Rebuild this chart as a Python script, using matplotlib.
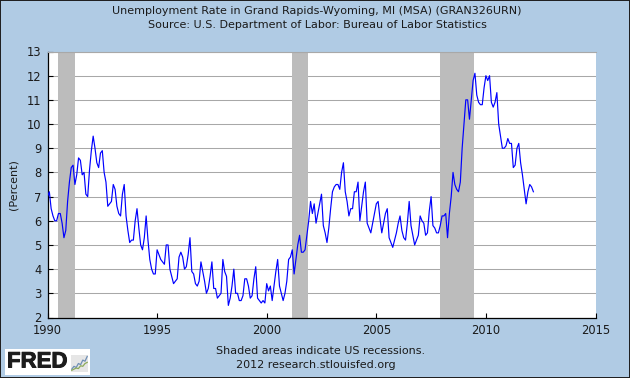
import numpy as np
import matplotlib
matplotlib.use("Agg")
import matplotlib.pyplot as plt
import matplotlib.patheffects as pe
from matplotlib.patches import Rectangle

# monthly unemployment rate
rate_1990 = [7.0, 7.2, 6.5, 6.2, 6.0, 6.0, 6.3, 6.3, 5.9, 5.3, 5.6, 6.8]
rate_1991 = [7.6, 8.2, 8.3, 7.5, 7.9, 8.6, 8.5, 7.9, 8.0, 7.1, 7.0, 8.1]
rate_1992 = [8.9, 9.5, 9.0, 8.4, 8.2, 8.8, 8.9, 8.0, 7.6, 6.6, 6.7, 6.8]
rate_1993 = [7.5, 7.3, 6.6, 6.3, 6.2, 7.1, 7.5, 6.2, 5.6, 5.1, 5.2, 5.2]
rate_1994 = [6.0, 6.5, 5.7, 5.0, 4.8, 5.3, 6.2, 5.2, 4.4, 4.0, 3.8, 3.8]
rate_1995 = [4.8, 4.6, 4.4, 4.3, 4.2, 5.0, 5.0, 4.0, 3.7, 3.4, 3.5, 3.6]
rate_1996 = [4.5, 4.7, 4.5, 4.0, 4.1, 4.6, 5.3, 3.9, 3.8, 3.4, 3.3, 3.5]
rate_1997 = [4.3, 3.9, 3.5, 3.0, 3.2, 3.7, 4.3, 3.2, 3.2, 2.8, 2.9, 3.0]
rate_1998 = [4.4, 3.9, 3.7, 2.5, 2.8, 3.3, 4.0, 3.0, 3.0, 2.7, 2.7, 2.9]
rate_1999 = [3.6, 3.6, 3.3, 2.8, 2.9, 3.6, 4.1, 2.8, 2.7, 2.6, 2.7, 2.6]
rate_2000 = [3.4, 3.1, 3.3, 2.7, 3.3, 3.9, 4.4, 3.3, 3.0, 2.7, 3.0, 3.5]
rate_2001 = [4.4, 4.5, 4.8, 3.8, 4.4, 5.0, 5.4, 4.7, 4.7, 4.8, 5.4, 6.0]
rate_2002 = [6.8, 6.3, 6.7, 5.9, 6.3, 6.7, 7.1, 5.8, 5.5, 5.1, 5.7, 6.5]
rate_2003 = [7.2, 7.4, 7.5, 7.5, 7.3, 8.0, 8.4, 7.2, 6.8, 6.2, 6.5, 6.5]
rate_2004 = [7.2, 7.2, 7.6, 6.0, 6.6, 7.2, 7.6, 5.9, 5.7, 5.5, 5.9, 6.3]
rate_2005 = [6.7, 6.8, 6.1, 5.5, 5.9, 6.3, 6.5, 5.3, 5.1, 4.9, 5.2, 5.5]
rate_2006 = [5.9, 6.2, 5.6, 5.3, 5.2, 5.9, 6.8, 5.8, 5.4, 5.0, 5.2, 5.4]
rate_2007 = [6.2, 6.0, 5.9, 5.4, 5.5, 6.4, 7.0, 5.8, 5.7, 5.5, 5.5, 5.8]
rate_2008 = [6.2, 6.2, 6.3, 5.3, 6.3, 7.0, 8.0, 7.5, 7.3, 7.2, 7.6, 9.0]
rate_2009 = [10.0, 11.0, 11.0, 10.2, 11.0, 11.8, 12.1, 11.2, 10.9, 10.8, 10.8, 11.5]
rate_2010 = [12.0, 11.8, 12.0, 10.9, 10.7, 10.9, 11.3, 10.0, 9.5, 9.0, 9.0, 9.1]
rate_2011 = [9.4, 9.2, 9.2, 8.2, 8.3, 9.0, 9.2, 8.4, 7.9, 7.3, 6.7, 7.2]
rate_2012 = [7.5, 7.4, 7.2]

rate = np.concatenate((rate_1990, rate_1991, rate_1992, rate_1993, rate_1994, rate_1995,
                       rate_1996, rate_1997, rate_1998, rate_1999, rate_2000, rate_2001,
                       rate_2002, rate_2003, rate_2004, rate_2005, rate_2006, rate_2007,
                       rate_2008, rate_2009, rate_2010, rate_2011, rate_2012))
dates = 1990 + np.arange(len(rate)) / 12

recession_start = [1990.5, 2001.17, 2007.92]
recession_end = [1991.25, 2001.87, 2009.46]
year_ticks = [1990, 1995, 2000, 2005, 2010, 2015]
rate_ticks = [2, 3, 4, 5, 6, 7, 8, 9, 10, 11, 12, 13]

# little logo chart
icon_blue = [1, 2, 1.6, 3, 2.6, 4.2, 3.8, 5.5]
icon_green = [0.6, 1, 1.4, 1.2, 2.2, 2.0, 3.0, 3.4]

BG = "#b0cbe4"
TEXT = "#1a1a1a"
W, H = 630, 378

fig = plt.figure(figsize=(W / 100, H / 100), dpi=100, facecolor=BG)
axis = fig.add_axes([47.5 / W, 1 - 317.5 / H, 548 / W, 266 / H])

for start, end in zip(recession_start, recession_end):
    axis.axvspan(start, end, color="#bcbcbc", lw=0, zorder=2)
axis.grid(axis="y", color="#a8a8a8", lw=0.75, zorder=1)
axis.plot(dates, rate, color="#0000ff", lw=0.85, zorder=3)

axis.set_xlim(1990, 2015)
axis.set_ylim(2, 13)
axis.set_xticks(year_ticks)
axis.set_yticks(rate_ticks)
axis.tick_params(direction="in", length=3.6, width=0.8, color="black", labelsize=8.3,
                 labelcolor=TEXT, pad=5)
axis.tick_params(axis="y", pad=4.5)
axis.spines["top"].set_color("#a8a8a8")
axis.spines["top"].set_linewidth(0.8)
axis.spines["right"].set_visible(False)
axis.spines["left"].set_linewidth(0.9)
axis.spines["bottom"].set_linewidth(0.9)
axis.set_ylabel("(Percent)", fontsize=8, color=TEXT, labelpad=5.5)

fig.text(317 / W, 1 - 10.5 / H, "Unemployment Rate in Grand Rapids-Wyoming, MI (MSA) (GRAN326URN)",
         ha="center", va="center", fontsize=8, color=TEXT)
fig.text(317 / W, 1 - 25 / H, "Source: U.S. Department of Labor: Bureau of Labor Statistics",
         ha="center", va="center", fontsize=8, color=TEXT)
fig.text(320.5 / W, 1 - 351 / H, "Shaded areas indicate US recessions.",
         ha="center", va="center", fontsize=8, color=TEXT)
fig.text(316 / W, 1 - 365.5 / H, "2012 research.stlouisfed.org",
         ha="center", va="center", fontsize=8, color=TEXT)

# frame around the picture
fig.add_artist(Rectangle((0, 0), 1, 1, transform=fig.transFigure, fill=False,
                         edgecolor="#1c1c1c", lw=1.4))

# logo
fig.add_artist(Rectangle((5 / W, 1 - 375 / H), 85 / W, 26 / H, transform=fig.transFigure,
                         facecolor="white", edgecolor="none"))
logo = fig.text(7 / W, 1 - 362 / H, "FRED", ha="left", va="center", fontsize=16,
                fontweight="bold", color="#1c1c1c", family="Liberation Sans")
logo.set_path_effects([pe.withStroke(linewidth=0.7, foreground="#1c1c1c")])
icon = fig.add_axes([71 / W, 1 - 372 / H, 17 / W, 17 / H], facecolor="#e6e6e6", zorder=5)
icon.plot(icon_blue, color="#6f8fb5", lw=0.9)
icon.plot(icon_green, color="#8caa5a", lw=0.9)
icon.set_xticks([])
icon.set_yticks([])
icon.set_ylim(0, 6)
for side in icon.spines.values():
    side.set_visible(False)

fig.savefig("out.png", dpi=100, facecolor=BG)
